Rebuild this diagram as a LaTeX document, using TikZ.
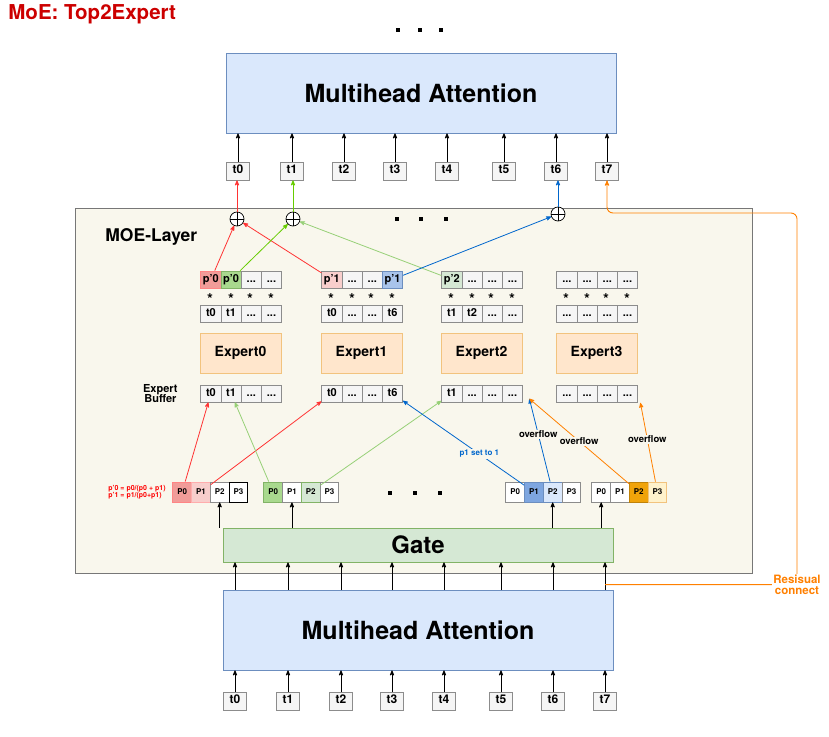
\documentclass[tikz,border=0pt]{standalone}
\usepackage{fontspec}
\setmainfont{TeX Gyre Heros}
\usetikzlibrary{arrows}
\usetikzlibrary{calc}
\usetikzlibrary{matrix}
\usetikzlibrary{positioning}

\definecolor{mhafill}{HTML}{DAE8FC}
\definecolor{mhaline}{HTML}{6C8EBF}
\definecolor{gatefill}{HTML}{D5E8D4}
\definecolor{gateline}{HTML}{82B366}
\definecolor{expfill}{HTML}{FFE6CC}
\definecolor{expline}{HTML}{F2C37E}
\definecolor{moefill}{HTML}{F9F7ED}
\definecolor{moeline}{HTML}{777777}
\definecolor{cellfill}{HTML}{F5F5F5}
\definecolor{cellline}{HTML}{8C8C8C}
\definecolor{titlered}{HTML}{CC0000}
\definecolor{wred}{HTML}{F19C99}
\definecolor{wpink}{HTML}{F8CECC}
\definecolor{wgreen}{HTML}{A9D98E}
\definecolor{wlgreen}{HTML}{D5E8D4}
\definecolor{wblue}{HTML}{A9C4EB}
\definecolor{wdblue}{HTML}{7EA6E0}
\definecolor{wlblue}{HTML}{DAE8FC}
\definecolor{worange}{HTML}{F0A30A}
\definecolor{wyellow}{HTML}{FFF2CC}
\definecolor{ared}{HTML}{FF3333}
\definecolor{agreen}{HTML}{66CC00}
\definecolor{algreen}{HTML}{97D077}
\definecolor{ablue}{HTML}{0066CC}
\definecolor{aorange}{HTML}{FF8000}

\newcommand{\fsz}[1]{\fontsize{#1}{#1}\selectfont}

\tikzset{
  box/.style={draw, line width=0.8pt, inner sep=0pt, font=\bfseries},
  expert/.style={box, draw=expline, fill=expfill, minimum width=81pt, minimum height=40pt, font=\bfseries\fsz{14}},
  cell/.style={draw=cellline, fill=cellfill, line width=0.8pt, minimum width=20.2pt, minimum height=17pt, inner sep=0pt,
    text height=8pt, text depth=2.5pt, font=\bfseries\fsz{11}},
  cellrow/.style={matrix of nodes, inner sep=0pt, column sep=-0.8pt, nodes={cell}, anchor=west},
  pcell/.style={cell, fill=white, minimum width=18.75pt, minimum height=20pt, text height=6pt, text depth=1.5pt, font=\bfseries\fsz{8}},
  pcellrow/.style={cellrow, nodes={pcell}},
  tok/.style={cell, minimum width=23pt, minimum height=18pt, font=\bfseries\fsz{12}},
  sum/.style={circle, draw, fill=white, line width=0.7pt, minimum size=14pt, inner sep=0pt,
    path picture={\draw[line width=0.7pt] (path picture bounding box.north) -- (path picture bounding box.south)
      (path picture bounding box.west) -- (path picture bounding box.east);}},
  dot/.style={fill=black, minimum size=3.5pt, inner sep=0pt},
  star/.style={inner sep=0pt, font=\bfseries\fsz{15}},
  lbl/.style={fill=moefill, inner sep=1pt, font=\bfseries\fsz{9.5}},
}

\begin{document}
\begin{tikzpicture}[x=1pt, y=-1pt, >=stealth', line width=0.8pt]
  \useasboundingbox (0,0) rectangle (829,736);

  \node[anchor=west, text=titlered, font=\bfseries\fsz{20.5}, inner sep=0pt] (title) at (8,14) {MoE: Top2Expert};
  \foreach \x [count=\i] in {398,420,441} \node[dot] (dtop\i) at (\x,30) {};

  \node[box, draw=mhaline, fill=mhafill, minimum width=390pt, minimum height=80pt, font=\bfseries\fsz{25}] (mhaT) at (421,93) {Multihead Attention};
  \foreach \x [count=\i from 0] in {238,292,344,395,447,504,556,607}{
    \node[tok] (tt\i) at (\x,171) {t\i};
    \draw[->] (tt\i) -- (tt\i |- mhaT.south);
  }

  \node[draw=moeline, fill=moefill, line width=0.8pt, minimum width=677pt, minimum height=365pt, inner sep=0pt] (moe) at (413.5,390.5) {};
  \node[anchor=west, font=\bfseries\fsz{17.5}, inner sep=0pt] (moelbl) at (105,237) {MOE-Layer};
  \foreach \x [count=\i] in {397,421,446} \node[dot] (dmoe\i) at (\x,219) {};

  \node[sum] (sum0) at (237,219) {};
  \node[sum] (sum1) at (293,219) {};
  \node[sum] (sum2) at (558,214) {};
  \draw[->, ared] (sum0) -- (sum0 |- tt0.south);
  \draw[->, agreen] (sum1) -- (sum1 |- tt1.south);
  \draw[->, ablue] (sum2) -- (sum2 |- tt6.south);

  \matrix (pw0) [cellrow] at (200,279.5) {|[fill=wred, draw=ared!60]| p'0 & |[fill=wgreen, draw=gateline]| p'0 & ... & ... \\};
  \matrix (pw1) [cellrow] at (321,279.5) {|[fill=wpink]| p'1 & ... & ... & |[fill=wblue, draw=mhaline]| p'1 \\};
  \matrix (pw2) [cellrow] at (441,279.5) {|[fill=wlgreen]| p'2 & ... & ... & ... \\};
  \matrix (pw3) [cellrow] at (556,279.5) {... & ... & ... & ... \\};

  \foreach \g in {200,321,441,556}
    \foreach \d in {10,31,50,71}
      \node[star] (st-\g-\d) at (\g+\d,299) {*};

  \matrix (tk0) [cellrow] at (200,314) {t0 & t1 & ... & ... \\};
  \matrix (tk1) [cellrow] at (321,314) {t0 & ... & ... & t6 \\};
  \matrix (tk2) [cellrow] at (441,314) {t1 & t2 & ... & ... \\};
  \matrix (tk3) [cellrow] at (556,314) {... & ... & ... & ... \\};

  \foreach \x [count=\i from 0] in {240.5,361.5,481.5,596.5}
    \node[expert] (ex\i) at (\x,353) {Expert\i};

  \matrix (buf0) [cellrow] at (200,393.5) {t0 & t1 & ... & ... \\};
  \matrix (buf1) [cellrow] at (321,393.5) {t0 & ... & ... & t6 \\};
  \matrix (buf2) [cellrow] at (441,393.5) {t1 & ... & ... & ... \\};
  \matrix (buf3) [cellrow] at (556,393.5) {... & ... & ... & ... \\};
  \node[left=22pt of buf0, align=center, inner sep=0pt, font=\bfseries\fsz{11}] (buflbl) {Expert\\[-1pt]Buffer};

  \matrix (g0) [pcellrow] at (172,492) {|[fill=wred, draw=ared!60]| P0 & |[fill=wpink, draw=ared!40]| P1 & P2 & |[draw=black]| P3 \\};
  \matrix (g1) [pcellrow] at (263,492) {|[fill=wgreen, draw=gateline]| P0 & P1 & |[fill=wlgreen, draw=gateline]| P2 & P3 \\};
  \matrix (g2) [pcellrow] at (505,492) {P0 & |[fill=wdblue, draw=mhaline]| P1 & |[fill=wlblue, draw=mhaline]| P2 & P3 \\};
  \matrix (g3) [pcellrow] at (591,492) {P0 & P1 & |[fill=worange, draw=worange!80!black]| P2 & |[fill=wyellow, draw=expline]| P3 \\};
  \node[left=6pt of g0, align=left, inner sep=0pt, text=red, font=\bfseries\fsz{7}] (fml) {p'0 = p0/(p0 + p1)\\p'1 = p1/(p0+p1)};
  \foreach \x [count=\i] in {390,415,440} \node[dot] (dgate\i) at (\x,493) {};

  \coordinate (ovf2) at ([xshift=6pt,yshift=4pt]buf2.south east);
  \coordinate (ovf3) at ([xshift=2pt]buf3.south east);

  \path[->, ared] (g0-1-1) edge (buf0-1-1) (g0-1-2) edge (buf1-1-1)
    (pw0-1-1) edge (sum0) (pw1-1-1) edge (sum0);
  \path[->, algreen] (g1-1-1) edge (buf0-1-2) (g1-1-3) edge (buf2-1-1) (pw2-1-1) edge (sum1);
  \path[->, agreen] (pw0-1-2) edge (sum1);
  \path[->, ablue] (g2-1-2) edge node[lbl, text=ablue, font=\bfseries\fsz{8}, pos=0.37] {p1 set to 1} (buf1-1-4)
    (g2-1-3) edge node[lbl, text=black, pos=0.57] {overflow} (ovf2)
    (pw1-1-4) edge (sum2);
  \path[->, aorange] (g3-1-3) edge node[lbl, text=black, pos=0.5] {overflow} (ovf2)
    (g3-1-4) edge node[lbl, text=black, pos=0.54] {overflow} (ovf3);

  \node[box, draw=gateline, fill=gatefill, minimum width=390pt, minimum height=34pt, font=\bfseries\fsz{24}] (gate) at (418,545) {Gate};
  \foreach \p in {g0-1-3,g1-1-2,g2-1-3,g3-1-1}
    \draw[->] (\p |- gate.north) -- (\p);

  \node[box, draw=mhaline, fill=mhafill, minimum width=390pt, minimum height=80pt, font=\bfseries\fsz{25}] (mhaB) at (418,630) {Multihead Attention};
  \foreach \x [count=\i from 0] in {235,288,341,392,444,501,553,605}{
    \node[tok] (bt\i) at (\x,701) {t\i};
    \draw[->] (bt\i) -- (bt\i |- mhaB.south);
    \draw[->] (bt\i |- mhaB.north) -- (bt\i |- gate.south);
  }

  \coordinate (rtap) at ($(bt7 |- mhaB.north)+(0,-5)$);
  \coordinate (rc) at (797,213);
  \draw[->, aorange, line width=0.9pt, rounded corners=6pt] (rtap) -| (rc) -| (tt7.south);
  \node[fill=white, align=center, inner sep=1pt, text=aorange, font=\bfseries\fsz{11.5}] (reslbl) at (797,585) {Resisual\\connect};
\end{tikzpicture}
\end{document}
